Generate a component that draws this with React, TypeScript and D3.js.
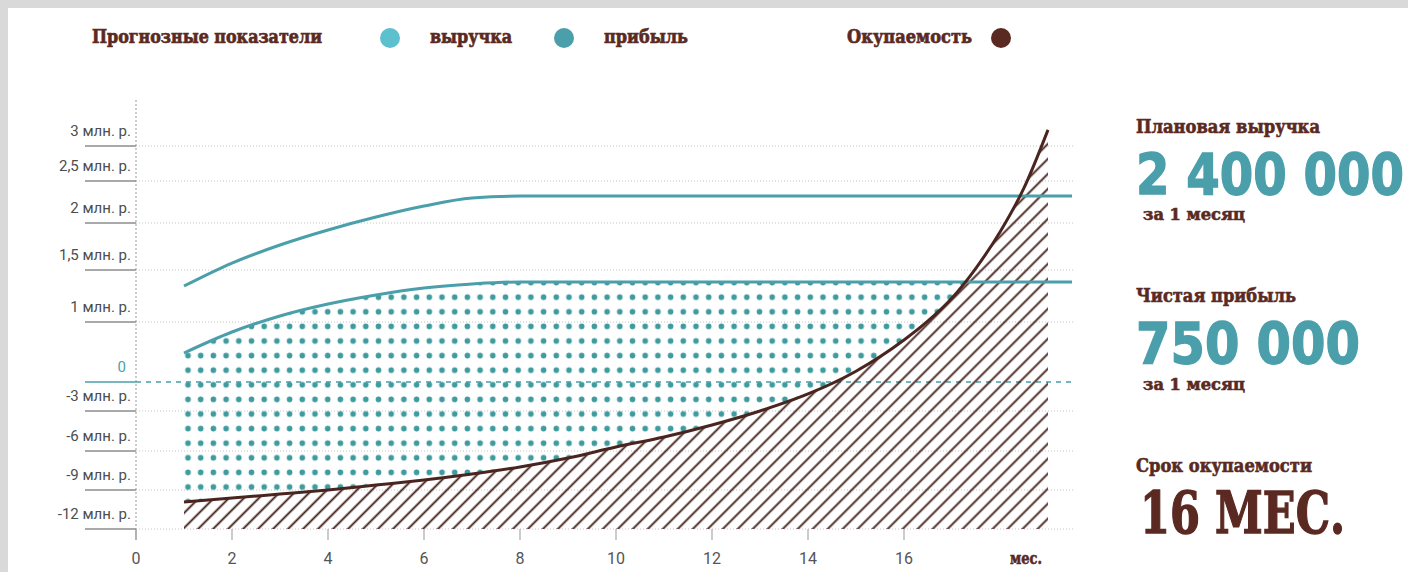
import React from 'react';
import * as d3 from 'd3';

// ---- data ----
const yTickValues = [-12, -9, -6, -3, 0, 1, 1.5, 2, 2.5, 3];
const yTickLabels = ['-12 млн. р.', '-9 млн. р.', '-6 млн. р.', '-3 млн. р.', '0', '1 млн. р.', '1,5 млн. р.', '2 млн. р.', '2,5 млн. р.', '3 млн. р.'];
const xTickValues = [0, 2, 4, 6, 8, 10, 12, 14, 16];
const xUnit = 'мес.';

const planMonths = [1, 2, 3, 4, 5, 6, 7, 8, 19.5];
const revenue = [1.346, 1.574, 1.766, 1.926, 2.071, 2.202, 2.298, 2.32, 2.32];
const profit = [0.483, 0.833, 1.058, 1.173, 1.26, 1.327, 1.365, 1.385, 1.385];

const paybackMonths = [1, 2, 3, 4, 5, 6, 7, 8, 9, 10, 11, 12, 13, 14, 15, 16, 16.5, 17, 17.5, 18, 18.5, 19];
const payback = [-9.92, -9.62, -9.31, -9.0, -8.62, -8.23, -7.77, -7.23, -6.54, -5.7, -4.95, -4.05, -3.0, -1.24, 0.18, 0.7, 1.01, 1.231, 1.521, 1.904, 2.417, 3.23];

const legendTitle = 'Прогнозные показатели';
const legendItems = ['выручка', 'прибыль'];
const paybackLabel = 'Окупаемость';

const sideTitles = ['Плановая выручка', 'Чистая прибыль', 'Срок окупаемости'];
const sideValues = ['2 400 000', '750 000', '16 МЕС.'];
const sideNote = 'за 1 месяц';

const BROWN = '#5a2a22';
const TEAL = '#4a9fab';
const DOT = '#3f9b9e';
const CYAN = '#5cc0cf';
const SLAB = "'DejaVu Serif', 'DejaVu Serif Condensed', serif";
const SANS = "Roboto, 'DejaVu Sans', sans-serif";
const HEAVY = "'DejaVu Sans', sans-serif";

export default function App() {
  const W = 1408, H = 572;
  const x = d3.scaleLinear().domain([0, 18]).range([136, 1000]);
  const y = d3.scaleLinear().domain(yTickValues).range([529, 490, 451, 411, 382, 322, 270, 223, 181, 146]);
  const x0 = 136, xEnd = 1073;

  const pts = (ms: number[], vs: number[]) => ms.map((m, i) => [m, vs[i]] as [number, number]);
  const line = d3.line<[number, number]>().x(d => x(d[0])).y(d => y(d[1])).curve(d3.curveMonotoneX);
  const area = d3.area<[number, number]>().x(d => x(d[0])).y0(y(-12)).y1(d => y(d[1])).curve(d3.curveMonotoneX);

  const revPts = pts(planMonths, revenue);
  const profPts = pts(planMonths, profit);
  const payPts = pts(paybackMonths, payback);

  const bigNum = (txt: string, xx: number, yy: number, len: number, color: string, fam: string) => (
    <g transform={`translate(${xx},${yy}) scale(1,1.2)`}>
      <text x={0} y={0} fontSize={48} fontFamily={fam} fontWeight="bold" fill={color}
        stroke={color} strokeWidth={1.2} textLength={len} lengthAdjust="spacingAndGlyphs">{txt}</text>
    </g>
  );

  return (
    <svg width={W} height={H} style={{ position: 'absolute', left: 0, top: 0 }}>
      <defs>
        <pattern id="dots" patternUnits="userSpaceOnUse" x={188 - 6.35} y={341 - 7.3} width={12.7} height={14.6}>
          <circle cx={6.35} cy={7.3} r={2.8} fill={DOT} />
        </pattern>
        <pattern id="hatch" patternUnits="userSpaceOnUse" width={10.6} height={10.6} patternTransform="rotate(45)">
          <line x1={5.3} y1={0} x2={5.3} y2={10.6} stroke="#45221c" strokeWidth={1.9} />
        </pattern>
        <mask id="dotMask" maskUnits="userSpaceOnUse" x={0} y={0} width={W} height={H}>
          <path d={area(profPts) || ''} fill="white" />
          <path d={area(payPts) || ''} fill="black" />
        </mask>
        <clipPath id="dotClip">
          <rect x={x(1)} y={0} width={x(19) - x(1)} height={H} />
        </clipPath>
      </defs>

      <rect x={0} y={0} width={W} height={H} fill="#d9d9d9" />
      <rect x={8} y={8} width={W - 8} height={H - 8} fill="#ffffff" />

      {/* legend */}
      <g fontFamily={SLAB} fontWeight="bold" fill={BROWN} stroke={BROWN} strokeWidth={0.7} fontSize={19}>
        <text x={92} y={43} textLength={230} lengthAdjust="spacingAndGlyphs">{legendTitle}</text>
        <text x={430} y={43} textLength={82} lengthAdjust="spacingAndGlyphs">{legendItems[0]}</text>
        <text x={604} y={43} textLength={84} lengthAdjust="spacingAndGlyphs">{legendItems[1]}</text>
        <text x={847} y={43} textLength={125} lengthAdjust="spacingAndGlyphs">{paybackLabel}</text>
      </g>
      <circle cx={390} cy={38} r={10} fill={CYAN} />
      <circle cx={564} cy={38} r={10} fill={TEAL} />
      <circle cx={1001} cy={38} r={10} fill={BROWN} />

      {/* y axis line */}
      <line x1={x0} x2={x0} y1={100} y2={y(-12)} stroke="#999" strokeDasharray="2 2" strokeWidth={1} />
      <line x1={x0} x2={x0} y1={y(-12)} y2={540} stroke="#999" strokeWidth={1} />

      {/* gridlines */}
      {yTickValues.map((v, i) => {
        const yy = y(v);
        const zero = v === 0;
        return (
          <g key={i}>
            <line x1={85} x2={x0} y1={yy} y2={yy} stroke={zero ? TEAL : '#8c8c8c'} strokeWidth={1.6} />
            {zero ? (
              <line x1={x0} x2={xEnd} y1={yy} y2={yy} stroke={TEAL} strokeWidth={1.5} strokeDasharray="5 5" />
            ) : (
              <line x1={x0} x2={xEnd} y1={yy} y2={yy} stroke="#c4c4c4" strokeWidth={1} strokeDasharray="1 2" />
            )}
            <text x={zero ? 126 : 131} y={yy - 10} textAnchor="end" fontFamily={SANS}
              fontSize={15} fill={zero ? TEAL : '#4d4d4d'}>{yTickLabels[i]}</text>
          </g>
        );
      })}

      {/* dotted profit region */}
      <g clipPath="url(#dotClip)">
        <rect x={0} y={0} width={W} height={H} fill="url(#dots)" mask="url(#dotMask)" />
      </g>

      {/* hatched payback region */}
      <path d={area(payPts) || ''} fill="url(#hatch)" />

      {/* lines */}
      <path d={line(revPts) || ''} fill="none" stroke={TEAL} strokeWidth={3} />
      <path d={line(profPts) || ''} fill="none" stroke={TEAL} strokeWidth={3} />
      <path d={line(payPts) || ''} fill="none" stroke="#4a2520" strokeWidth={3} />

      {/* x axis */}
      {xTickValues.map(v => (
        <g key={v}>
          <line x1={x(v)} x2={x(v)} y1={y(-12)} y2={540} stroke="#999" strokeWidth={1} />
          <text x={x(v)} y={564} textAnchor="middle" fontFamily={SANS} fontSize={16} fill="#555">{v}</text>
        </g>
      ))}
      <text x={1010} y={564} fontFamily={SLAB} fontWeight="bold" fontSize={17} fill={BROWN} stroke={BROWN} strokeWidth={0.6}
        textLength={32} lengthAdjust="spacingAndGlyphs">{xUnit}</text>

      {/* side panel */}
      <g fontFamily={SLAB} fontWeight="bold" fill={BROWN} stroke={BROWN} strokeWidth={0.6}>
        <text x={1136} y={133} fontSize={18} textLength={184} lengthAdjust="spacingAndGlyphs">{sideTitles[0]}</text>
        <text x={1143} y={220} fontSize={16} textLength={102} lengthAdjust="spacingAndGlyphs">{sideNote}</text>
        <text x={1136} y={302} fontSize={18} textLength={160} lengthAdjust="spacingAndGlyphs">{sideTitles[1]}</text>
        <text x={1143} y={390} fontSize={16} textLength={102} lengthAdjust="spacingAndGlyphs">{sideNote}</text>
        <text x={1136} y={472} fontSize={18} textLength={176} lengthAdjust="spacingAndGlyphs">{sideTitles[2]}</text>
      </g>
      {bigNum(sideValues[0], 1136, 195, 268, TEAL, HEAVY)}
      {bigNum(sideValues[1], 1136, 364, 224, TEAL, HEAVY)}
      {bigNum(sideValues[2], 1140, 533, 205, BROWN, SLAB)}
    </svg>
  );
}
